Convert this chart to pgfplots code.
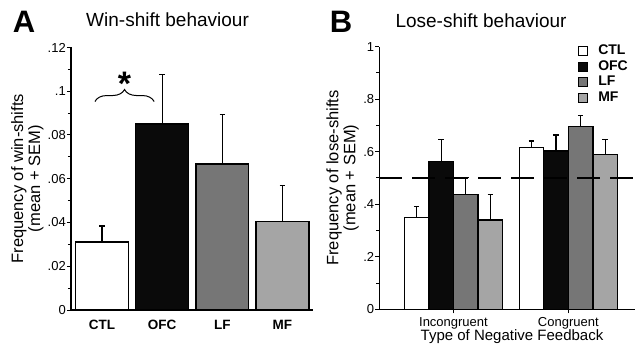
\documentclass[border=0pt]{standalone}
\usepackage{fontspec}
\setmainfont{Liberation Sans}
\usepackage{pgfplots}
\pgfplotsset{compat=1.18}
\usetikzlibrary{decorations.pathreplacing}
\definecolor{cOFC}{RGB}{10,10,10}
\definecolor{cLF}{RGB}{118,118,118}
\definecolor{cMF}{RGB}{165,165,165}
\pgfplotsset{
  panel/.style={
    scale only axis,
    axis lines*=left,
    axis line style={line width=1.2pt,-},
    tick align=outside,
    major tick length=4pt, minor tick length=3pt,
    every tick/.style={black, line width=1pt},
    enlargelimits=false,
    scaled y ticks=false,
    ymin=0,
    ybar,
    minor y tick num=1,
    yticklabel style={font=\fontsize{13}{15}\selectfont, inner sep=1pt},
    ylabel style={align=center, anchor=center, font=\fontsize{16.5}{17}\selectfont},
    title style={anchor=base, font=\fontsize{19}{22}\selectfont, inner sep=0pt},
  },
  sqlegend/.style={legend image code/.code={\draw[##1, line width=1.1pt] (0pt,-4.5pt) rectangle (9pt,4.5pt);}},
  ebar/.style={error bars/.cd, y dir=plus, y explicit,
    error bar style={line width=1.2pt, black},
    error mark options={rotate=90, mark size=2.8pt, line width=1.2pt, black}, /pgfplots/.cd},
}
\begin{document}
\begin{tikzpicture}
\useasboundingbox (0,0) rectangle (635pt,343pt);
% ---------------- Panel A ----------------
\begin{axis}[panel,
  at={(71pt,33pt)}, anchor=south west,
  width=242pt, height=262.5pt,
  xmin=-0.515, xmax=3.507, ymax=0.12,
  bar width=0.88,
  ytick={0,0.02,0.04,0.06,0.08,0.1,0.12},
  yticklabels={0,.02,.04,.06,.08,.1,.12},
  xtick={0,1,2,3}, xticklabels={CTL,OFC,LF,MF},
  x tick style={draw=none},
  xticklabel style={font=\bfseries\fontsize{13.5}{15}\selectfont, inner sep=0pt, anchor=north, yshift=-6pt},
  title={Win-shift behaviour},
  title style={at={(axis description cs:0.399,1.056)}},
  ylabel={Frequency of win-shifts\\(mean + SEM)},
  ylabel style={at={(axis description cs:-0.18,0.5)}},
]
\addplot[fill=white, draw=black, line width=1.3pt, bar shift=0, ebar] coordinates {(0,0.0311) +- (0,0.0073)};
\addplot[fill=cOFC, draw=black, line width=1.3pt, bar shift=0, ebar] coordinates {(1,0.0850) +- (0,0.0227)};
\addplot[fill=cLF, draw=black, line width=1.3pt, bar shift=0, ebar] coordinates {(2,0.0668) +- (0,0.0224)};
\addplot[fill=cMF, draw=black, line width=1.3pt, bar shift=0, ebar] coordinates {(3,0.0406) +- (0,0.0163)};
\draw[line width=1pt, decorate, decoration={brace, amplitude=12pt}] (axis cs:-0.117,0.0953) -- (axis cs:0.867,0.0953);
\node[anchor=north, inner sep=0pt, font=\bfseries\fontsize{34}{36}\selectfont] at (axis cs:0.372,0.1087) {*};
\end{axis}
% ---------------- Panel B ----------------
\begin{axis}[panel,
  at={(379.3pt,33.7pt)}, anchor=south west,
  width=255.7pt, height=262.6pt,
  xmin=-0.646, xmax=1.581, ymax=1,
  bar width=0.214,
  ytick={0,0.2,0.4,0.6,0.8,1},
  yticklabels={0,.2,.4,.6,.8,1},
  xtick={0,1}, xticklabels={Incongruent,Congruent},
  xticklabel style={font=\fontsize{13}{15}\selectfont, inner sep=0pt, anchor=north, yshift=-4pt},
  title={Lose-shift behaviour},
  title style={at={(axis description cs:0.398,1.052)}},
  ylabel={Frequency of lose-shifts\\(mean + SEM)},
  ylabel style={at={(axis description cs:-0.144,0.5)}},
  xlabel={Type of Negative Feedback},
  xlabel style={at={(axis description cs:0.519,-0.119)}, anchor=base, inner sep=0pt, font=\fontsize{15}{17}\selectfont},
  legend style={draw=none, fill=none, inner sep=0pt, at={(rel axis cs:0.777,1.008)}, anchor=north west,
    font=\bfseries\fontsize{14}{15}\selectfont, row sep=2.5pt, column sep=10pt,
    nodes={inner sep=0pt, text height=10pt, text depth=3pt}, cells={anchor=west}},
]
\addplot[fill=white, draw=black, line width=1.3pt, bar shift=-0.321, sqlegend, ebar] coordinates {(0,0.350) +- (0,0.042) (1,0.615) +- (0,0.026)};
\addplot[fill=cOFC, draw=black, line width=1.3pt, bar shift=-0.107, sqlegend, ebar] coordinates {(0,0.562) +- (0,0.085) (1,0.603) +- (0,0.061)};
\addplot[fill=cLF, draw=black, line width=1.3pt, bar shift=0.107, sqlegend, ebar] coordinates {(0,0.438) +- (0,0.065) (1,0.695) +- (0,0.042)};
\addplot[fill=cMF, draw=black, line width=1.3pt, bar shift=0.321, sqlegend, ebar] coordinates {(0,0.340) +- (0,0.098) (1,0.590) +- (0,0.057)};
\addplot[forget plot, sharp plot, black, line width=1.2pt, dash pattern=on 22.5pt off 10.5pt] coordinates {(-0.646,0.5) (1.581,0.5)};
\legend{CTL,OFC,LF,MF}
\end{axis}
\node[anchor=base, inner sep=0pt, font=\bfseries\fontsize{31}{33}\selectfont] at (24pt,310pt) {A};
\node[anchor=base, inner sep=0pt, font=\bfseries\fontsize{31}{33}\selectfont] at (341pt,310pt) {B};
\end{tikzpicture}
\end{document}
